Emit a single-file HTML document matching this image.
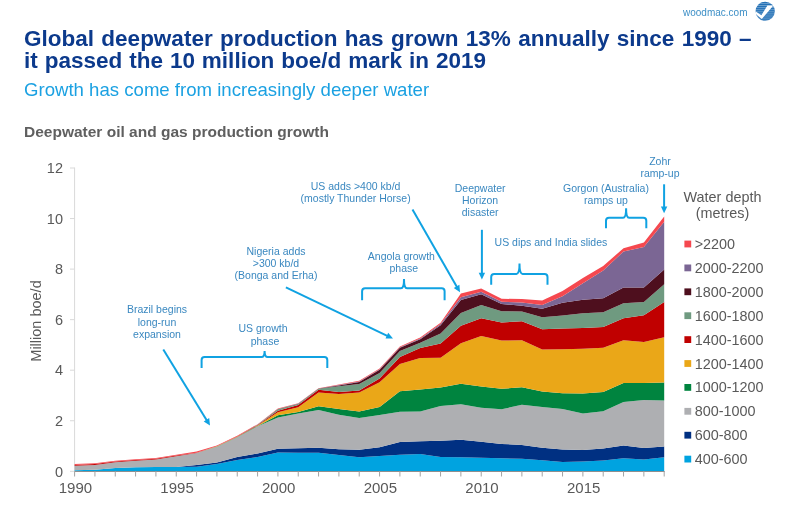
<!DOCTYPE html>
<html><head><meta charset="utf-8">
<style>
html,body{margin:0;padding:0;background:#fff;}
body{width:800px;height:528px;overflow:hidden;position:relative;font-family:"Liberation Sans",sans-serif;}
svg{position:absolute;left:0;top:0;will-change:transform;}
.ax{font-size:14.5px;fill:#595959;}
.an{font-size:10.5px;fill:#3a88c0;}
.lg{font-size:14.4px;fill:#595959;}
</style></head><body>
<svg width="800" height="528" viewBox="0 0 800 528">
<text x="683" y="15.6" style="font-size:10px;fill:#3d8fc6">woodmac.com</text>
<defs><clipPath id="lc"><circle cx="765.2" cy="11.25" r="9.6"/></clipPath></defs>
<g clip-path="url(#lc)">
<rect x="755" y="1" width="21" height="21" fill="#2471b6"/>
<g stroke="#ffffff" stroke-width="0.6" opacity="0.55">
<line x1="754" y1="3.4" x2="777" y2="3.4"/><line x1="754" y1="5.5" x2="777" y2="5.5"/><line x1="754" y1="7.6" x2="777" y2="7.6"/><line x1="754" y1="9.7" x2="777" y2="9.7"/><line x1="754" y1="11.8" x2="777" y2="11.8"/><line x1="754" y1="13.9" x2="777" y2="13.9"/><line x1="754" y1="16" x2="777" y2="16"/><line x1="754" y1="18.1" x2="777" y2="18.1"/><line x1="754" y1="20.2" x2="777" y2="20.2"/>
</g>
<path d="M755.0 11.1 L761.4 15.2 L767.4 5.6 L773.4 5.6 L761.8 18.9 L755.0 13.4 Z" fill="#ffffff"/>
</g>
<text x="24" y="45.5" style="font-size:22.5px;font-weight:bold;fill:#0c3a8c;word-spacing:1.1px">Global deepwater production has grown 13% annually since 1990 –</text>
<text x="24" y="68" style="font-size:22.5px;font-weight:bold;fill:#0c3a8c;word-spacing:0.7px">it passed the 10 million boe/d mark in 2019</text>
<text x="24" y="95.5" style="font-size:18.6px;fill:#1ba1e2">Growth has come from increasingly deeper water</text>
<text x="24" y="137" style="font-size:15.5px;font-weight:bold;fill:#5f5f5f">Deepwater oil and gas production growth</text>
<line x1="74.6" y1="167.5" x2="74.6" y2="471.3" stroke="#d9d9d9" stroke-width="1"/>
<line x1="70" y1="471.30" x2="74.6" y2="471.30" stroke="#d9d9d9" stroke-width="1"/>
<line x1="70" y1="420.75" x2="74.6" y2="420.75" stroke="#d9d9d9" stroke-width="1"/>
<line x1="70" y1="370.20" x2="74.6" y2="370.20" stroke="#d9d9d9" stroke-width="1"/>
<line x1="70" y1="319.65" x2="74.6" y2="319.65" stroke="#d9d9d9" stroke-width="1"/>
<line x1="70" y1="269.10" x2="74.6" y2="269.10" stroke="#d9d9d9" stroke-width="1"/>
<line x1="70" y1="218.55" x2="74.6" y2="218.55" stroke="#d9d9d9" stroke-width="1"/>
<line x1="70" y1="168.00" x2="74.6" y2="168.00" stroke="#d9d9d9" stroke-width="1"/>
<path d="M74.6 470.30 L94.9 469.70 L115.3 468.10 L135.6 467.20 L155.9 467.10 L176.3 467.00 L196.6 466.70 L216.9 463.90 L237.2 460.00 L257.6 457.00 L277.9 452.50 L298.2 452.70 L318.6 452.70 L338.9 455.10 L359.2 457.30 L379.6 456.00 L399.9 454.80 L420.2 454.00 L440.6 457.00 L460.9 457.30 L481.2 457.70 L501.6 458.20 L521.9 458.80 L542.2 460.30 L562.5 462.00 L582.9 461.50 L603.2 460.40 L623.5 458.30 L643.9 459.50 L664.2 457.30 L664.2 471.30 L643.9 471.30 L623.5 471.30 L603.2 471.30 L582.9 471.30 L562.5 471.30 L542.2 471.30 L521.9 471.30 L501.6 471.30 L481.2 471.30 L460.9 471.30 L440.6 471.30 L420.2 471.30 L399.9 471.30 L379.6 471.30 L359.2 471.30 L338.9 471.30 L318.6 471.30 L298.2 471.30 L277.9 471.30 L257.6 471.30 L237.2 471.30 L216.9 471.30 L196.6 471.30 L176.3 471.30 L155.9 471.30 L135.6 471.30 L115.3 471.30 L94.9 471.30 L74.6 471.30Z" fill="#00a3e0"/>
<path d="M74.6 470.30 L94.9 469.70 L115.3 468.10 L135.6 467.20 L155.9 467.10 L176.3 467.00 L196.6 465.00 L216.9 462.50 L237.2 456.90 L257.6 453.50 L277.9 448.80 L298.2 448.20 L318.6 447.80 L338.9 449.20 L359.2 449.80 L379.6 447.30 L399.9 442.00 L420.2 441.20 L440.6 440.70 L460.9 439.80 L481.2 441.70 L501.6 443.90 L521.9 445.00 L542.2 447.80 L562.5 449.60 L582.9 450.10 L603.2 448.50 L623.5 445.60 L643.9 447.90 L664.2 446.60 L664.2 457.30 L643.9 459.50 L623.5 458.30 L603.2 460.40 L582.9 461.50 L562.5 462.00 L542.2 460.30 L521.9 458.80 L501.6 458.20 L481.2 457.70 L460.9 457.30 L440.6 457.00 L420.2 454.00 L399.9 454.80 L379.6 456.00 L359.2 457.30 L338.9 455.10 L318.6 452.70 L298.2 452.70 L277.9 452.50 L257.6 457.00 L237.2 460.00 L216.9 463.90 L196.6 466.70 L176.3 467.00 L155.9 467.10 L135.6 467.20 L115.3 468.10 L94.9 469.70 L74.6 470.30Z" fill="#003082"/>
<path d="M74.6 465.75 L94.9 464.90 L115.3 462.25 L135.6 460.70 L155.9 459.50 L176.3 456.30 L196.6 453.10 L216.9 447.00 L237.2 437.20 L257.6 426.30 L277.9 417.60 L298.2 413.60 L318.6 410.00 L338.9 414.80 L359.2 418.10 L379.6 415.00 L399.9 411.80 L420.2 411.50 L440.6 406.00 L460.9 404.20 L481.2 407.80 L501.6 409.20 L521.9 404.80 L542.2 407.00 L562.5 409.00 L582.9 413.50 L603.2 411.30 L623.5 402.00 L643.9 400.00 L664.2 400.50 L664.2 446.60 L643.9 447.90 L623.5 445.60 L603.2 448.50 L582.9 450.10 L562.5 449.60 L542.2 447.80 L521.9 445.00 L501.6 443.90 L481.2 441.70 L460.9 439.80 L440.6 440.70 L420.2 441.20 L399.9 442.00 L379.6 447.30 L359.2 449.80 L338.9 449.20 L318.6 447.80 L298.2 448.20 L277.9 448.80 L257.6 453.50 L237.2 456.90 L216.9 462.50 L196.6 465.00 L176.3 467.00 L155.9 467.10 L135.6 467.20 L115.3 468.10 L94.9 469.70 L74.6 470.30Z" fill="#aeafb2"/>
<path d="M74.6 465.75 L94.9 464.90 L115.3 462.25 L135.6 460.70 L155.9 459.50 L176.3 456.30 L196.6 453.00 L216.9 446.80 L237.2 437.00 L257.6 425.90 L277.9 415.30 L298.2 412.00 L318.6 406.30 L338.9 409.10 L359.2 411.50 L379.6 407.10 L399.9 391.30 L420.2 389.50 L440.6 387.50 L460.9 383.80 L481.2 386.60 L501.6 388.80 L521.9 387.20 L542.2 391.50 L562.5 393.20 L582.9 393.50 L603.2 391.90 L623.5 382.90 L643.9 383.00 L664.2 382.50 L664.2 400.50 L643.9 400.00 L623.5 402.00 L603.2 411.30 L582.9 413.50 L562.5 409.00 L542.2 407.00 L521.9 404.80 L501.6 409.20 L481.2 407.80 L460.9 404.20 L440.6 406.00 L420.2 411.50 L399.9 411.80 L379.6 415.00 L359.2 418.10 L338.9 414.80 L318.6 410.00 L298.2 413.60 L277.9 417.60 L257.6 426.30 L237.2 437.20 L216.9 447.00 L196.6 453.10 L176.3 456.30 L155.9 459.50 L135.6 460.70 L115.3 462.25 L94.9 464.90 L74.6 465.75Z" fill="#00843f"/>
<path d="M74.6 465.75 L94.9 464.90 L115.3 462.25 L135.6 460.70 L155.9 459.50 L176.3 456.30 L196.6 452.90 L216.9 446.60 L237.2 436.80 L257.6 425.50 L277.9 412.20 L298.2 407.20 L318.6 392.50 L338.9 393.90 L359.2 392.50 L379.6 382.30 L399.9 364.00 L420.2 358.00 L440.6 357.70 L460.9 343.30 L481.2 336.00 L501.6 340.50 L521.9 340.20 L542.2 349.50 L562.5 349.20 L582.9 348.70 L603.2 347.70 L623.5 340.30 L643.9 342.00 L664.2 337.30 L664.2 382.50 L643.9 383.00 L623.5 382.90 L603.2 391.90 L582.9 393.50 L562.5 393.20 L542.2 391.50 L521.9 387.20 L501.6 388.80 L481.2 386.60 L460.9 383.80 L440.6 387.50 L420.2 389.50 L399.9 391.30 L379.6 407.10 L359.2 411.50 L338.9 409.10 L318.6 406.30 L298.2 412.00 L277.9 415.30 L257.6 425.90 L237.2 437.00 L216.9 446.80 L196.6 453.00 L176.3 456.30 L155.9 459.50 L135.6 460.70 L115.3 462.25 L94.9 464.90 L74.6 465.75Z" fill="#eaa718"/>
<path d="M74.6 464.90 L94.9 464.10 L115.3 461.50 L135.6 459.90 L155.9 458.70 L176.3 455.50 L196.6 452.80 L216.9 446.40 L237.2 436.60 L257.6 425.10 L277.9 410.80 L298.2 405.00 L318.6 389.70 L338.9 392.00 L359.2 390.60 L379.6 378.50 L399.9 357.00 L420.2 348.00 L440.6 343.60 L460.9 325.80 L481.2 318.30 L501.6 322.40 L521.9 321.30 L542.2 329.20 L562.5 328.40 L582.9 328.10 L603.2 327.10 L623.5 318.20 L643.9 315.30 L664.2 302.00 L664.2 337.30 L643.9 342.00 L623.5 340.30 L603.2 347.70 L582.9 348.70 L562.5 349.20 L542.2 349.50 L521.9 340.20 L501.6 340.50 L481.2 336.00 L460.9 343.30 L440.6 357.70 L420.2 358.00 L399.9 364.00 L379.6 382.30 L359.2 392.50 L338.9 393.90 L318.6 392.50 L298.2 407.20 L277.9 412.20 L257.6 425.50 L237.2 436.80 L216.9 446.60 L196.6 452.90 L176.3 456.30 L155.9 459.50 L135.6 460.70 L115.3 462.25 L94.9 464.90 L74.6 465.75Z" fill="#c00000"/>
<path d="M74.6 464.90 L94.9 464.10 L115.3 461.50 L135.6 459.90 L155.9 458.70 L176.3 455.50 L196.6 452.70 L216.9 446.20 L237.2 436.40 L257.6 424.80 L277.9 409.30 L298.2 403.90 L318.6 388.80 L338.9 386.20 L359.2 384.00 L379.6 373.00 L399.9 351.00 L420.2 342.80 L440.6 333.50 L460.9 313.00 L481.2 305.00 L501.6 311.20 L521.9 311.60 L542.2 317.30 L562.5 315.60 L582.9 313.30 L603.2 312.30 L623.5 303.30 L643.9 302.00 L664.2 284.20 L664.2 302.00 L643.9 315.30 L623.5 318.20 L603.2 327.10 L582.9 328.10 L562.5 328.40 L542.2 329.20 L521.9 321.30 L501.6 322.40 L481.2 318.30 L460.9 325.80 L440.6 343.60 L420.2 348.00 L399.9 357.00 L379.6 378.50 L359.2 390.60 L338.9 392.00 L318.6 389.70 L298.2 405.00 L277.9 410.80 L257.6 425.10 L237.2 436.60 L216.9 446.40 L196.6 452.80 L176.3 455.50 L155.9 458.70 L135.6 459.90 L115.3 461.50 L94.9 464.10 L74.6 464.90Z" fill="#6f9a80"/>
<path d="M74.6 464.90 L94.9 464.10 L115.3 461.50 L135.6 459.90 L155.9 458.70 L176.3 455.50 L196.6 452.70 L216.9 446.20 L237.2 436.40 L257.6 424.70 L277.9 409.00 L298.2 403.70 L318.6 388.60 L338.9 385.50 L359.2 382.10 L379.6 369.80 L399.9 347.80 L420.2 339.30 L440.6 325.20 L460.9 299.90 L481.2 294.30 L501.6 304.00 L521.9 305.70 L542.2 308.70 L562.5 302.70 L582.9 299.80 L603.2 298.20 L623.5 287.40 L643.9 287.50 L664.2 269.50 L664.2 284.20 L643.9 302.00 L623.5 303.30 L603.2 312.30 L582.9 313.30 L562.5 315.60 L542.2 317.30 L521.9 311.60 L501.6 311.20 L481.2 305.00 L460.9 313.00 L440.6 333.50 L420.2 342.80 L399.9 351.00 L379.6 373.00 L359.2 384.00 L338.9 386.20 L318.6 388.80 L298.2 403.90 L277.9 409.30 L257.6 424.80 L237.2 436.40 L216.9 446.20 L196.6 452.70 L176.3 455.50 L155.9 458.70 L135.6 459.90 L115.3 461.50 L94.9 464.10 L74.6 464.90Z" fill="#4e0f1e"/>
<path d="M74.6 464.90 L94.9 464.10 L115.3 461.50 L135.6 459.90 L155.9 458.70 L176.3 455.50 L196.6 452.70 L216.9 446.20 L237.2 436.40 L257.6 424.60 L277.9 408.90 L298.2 403.60 L318.6 388.50 L338.9 385.00 L359.2 381.50 L379.6 369.30 L399.9 347.20 L420.2 338.50 L440.6 324.00 L460.9 297.20 L481.2 291.80 L501.6 301.80 L521.9 302.50 L542.2 305.00 L562.5 296.20 L582.9 283.30 L603.2 270.50 L623.5 251.50 L643.9 247.00 L664.2 221.80 L664.2 269.50 L643.9 287.50 L623.5 287.40 L603.2 298.20 L582.9 299.80 L562.5 302.70 L542.2 308.70 L521.9 305.70 L501.6 304.00 L481.2 294.30 L460.9 299.90 L440.6 325.20 L420.2 339.30 L399.9 347.80 L379.6 369.80 L359.2 382.10 L338.9 385.50 L318.6 388.60 L298.2 403.70 L277.9 409.00 L257.6 424.70 L237.2 436.40 L216.9 446.20 L196.6 452.70 L176.3 455.50 L155.9 458.70 L135.6 459.90 L115.3 461.50 L94.9 464.10 L74.6 464.90Z" fill="#7b6694"/>
<path d="M74.6 464.00 L94.9 463.30 L115.3 460.80 L135.6 459.20 L155.9 457.90 L176.3 454.80 L196.6 451.60 L216.9 445.40 L237.2 435.80 L257.6 424.20 L277.9 408.50 L298.2 403.20 L318.6 388.20 L338.9 384.50 L359.2 380.80 L379.6 368.50 L399.9 346.50 L420.2 337.50 L440.6 322.70 L460.9 293.50 L481.2 288.50 L501.6 298.80 L521.9 299.00 L542.2 300.50 L562.5 291.00 L582.9 278.00 L603.2 266.00 L623.5 248.20 L643.9 242.60 L664.2 216.50 L664.2 221.80 L643.9 247.00 L623.5 251.50 L603.2 270.50 L582.9 283.30 L562.5 296.20 L542.2 305.00 L521.9 302.50 L501.6 301.80 L481.2 291.80 L460.9 297.20 L440.6 324.00 L420.2 338.50 L399.9 347.20 L379.6 369.30 L359.2 381.50 L338.9 385.00 L318.6 388.50 L298.2 403.60 L277.9 408.90 L257.6 424.60 L237.2 436.40 L216.9 446.20 L196.6 452.70 L176.3 455.50 L155.9 458.70 L135.6 459.90 L115.3 461.50 L94.9 464.10 L74.6 464.90Z" fill="#f5484f"/>
<line x1="74.6" y1="471.5" x2="664.7" y2="471.5" stroke="#8f8f8f" stroke-width="1"/>
<line x1="74.60" y1="471.3" x2="74.60" y2="476.5" stroke="#a3a3a3" stroke-width="1"/>
<line x1="94.93" y1="471.3" x2="94.93" y2="476.5" stroke="#a3a3a3" stroke-width="1"/>
<line x1="115.26" y1="471.3" x2="115.26" y2="476.5" stroke="#a3a3a3" stroke-width="1"/>
<line x1="135.59" y1="471.3" x2="135.59" y2="476.5" stroke="#a3a3a3" stroke-width="1"/>
<line x1="155.92" y1="471.3" x2="155.92" y2="476.5" stroke="#a3a3a3" stroke-width="1"/>
<line x1="176.26" y1="471.3" x2="176.26" y2="476.5" stroke="#a3a3a3" stroke-width="1"/>
<line x1="196.59" y1="471.3" x2="196.59" y2="476.5" stroke="#a3a3a3" stroke-width="1"/>
<line x1="216.92" y1="471.3" x2="216.92" y2="476.5" stroke="#a3a3a3" stroke-width="1"/>
<line x1="237.25" y1="471.3" x2="237.25" y2="476.5" stroke="#a3a3a3" stroke-width="1"/>
<line x1="257.58" y1="471.3" x2="257.58" y2="476.5" stroke="#a3a3a3" stroke-width="1"/>
<line x1="277.91" y1="471.3" x2="277.91" y2="476.5" stroke="#a3a3a3" stroke-width="1"/>
<line x1="298.24" y1="471.3" x2="298.24" y2="476.5" stroke="#a3a3a3" stroke-width="1"/>
<line x1="318.57" y1="471.3" x2="318.57" y2="476.5" stroke="#a3a3a3" stroke-width="1"/>
<line x1="338.90" y1="471.3" x2="338.90" y2="476.5" stroke="#a3a3a3" stroke-width="1"/>
<line x1="359.23" y1="471.3" x2="359.23" y2="476.5" stroke="#a3a3a3" stroke-width="1"/>
<line x1="379.57" y1="471.3" x2="379.57" y2="476.5" stroke="#a3a3a3" stroke-width="1"/>
<line x1="399.90" y1="471.3" x2="399.90" y2="476.5" stroke="#a3a3a3" stroke-width="1"/>
<line x1="420.23" y1="471.3" x2="420.23" y2="476.5" stroke="#a3a3a3" stroke-width="1"/>
<line x1="440.56" y1="471.3" x2="440.56" y2="476.5" stroke="#a3a3a3" stroke-width="1"/>
<line x1="460.89" y1="471.3" x2="460.89" y2="476.5" stroke="#a3a3a3" stroke-width="1"/>
<line x1="481.22" y1="471.3" x2="481.22" y2="476.5" stroke="#a3a3a3" stroke-width="1"/>
<line x1="501.55" y1="471.3" x2="501.55" y2="476.5" stroke="#a3a3a3" stroke-width="1"/>
<line x1="521.88" y1="471.3" x2="521.88" y2="476.5" stroke="#a3a3a3" stroke-width="1"/>
<line x1="542.21" y1="471.3" x2="542.21" y2="476.5" stroke="#a3a3a3" stroke-width="1"/>
<line x1="562.54" y1="471.3" x2="562.54" y2="476.5" stroke="#a3a3a3" stroke-width="1"/>
<line x1="582.88" y1="471.3" x2="582.88" y2="476.5" stroke="#a3a3a3" stroke-width="1"/>
<line x1="603.21" y1="471.3" x2="603.21" y2="476.5" stroke="#a3a3a3" stroke-width="1"/>
<line x1="623.54" y1="471.3" x2="623.54" y2="476.5" stroke="#a3a3a3" stroke-width="1"/>
<line x1="643.87" y1="471.3" x2="643.87" y2="476.5" stroke="#a3a3a3" stroke-width="1"/>
<line x1="664.20" y1="471.3" x2="664.20" y2="476.5" stroke="#a3a3a3" stroke-width="1"/>
<text x="63" y="476.50" text-anchor="end" class="ax">0</text>
<text x="63" y="425.95" text-anchor="end" class="ax">2</text>
<text x="63" y="375.40" text-anchor="end" class="ax">4</text>
<text x="63" y="324.85" text-anchor="end" class="ax">6</text>
<text x="63" y="274.30" text-anchor="end" class="ax">8</text>
<text x="63" y="223.75" text-anchor="end" class="ax">10</text>
<text x="63" y="173.20" text-anchor="end" class="ax">12</text>
<text x="75.40" y="493.3" text-anchor="middle" class="ax" style="font-size:15px">1990</text>
<text x="177.06" y="493.3" text-anchor="middle" class="ax" style="font-size:15px">1995</text>
<text x="278.71" y="493.3" text-anchor="middle" class="ax" style="font-size:15px">2000</text>
<text x="380.37" y="493.3" text-anchor="middle" class="ax" style="font-size:15px">2005</text>
<text x="482.02" y="493.3" text-anchor="middle" class="ax" style="font-size:15px">2010</text>
<text x="583.68" y="493.3" text-anchor="middle" class="ax" style="font-size:15px">2015</text>
<text transform="translate(40.5 321) rotate(-90)" text-anchor="middle" class="ax">Million boe/d</text>
<text x="157.0" y="313.0" text-anchor="middle" class="an">Brazil begins</text>
<text x="157.0" y="325.5" text-anchor="middle" class="an">long-run</text>
<text x="157.0" y="338.0" text-anchor="middle" class="an">expansion</text>
<line x1="163.3" y1="349.5" x2="207.0" y2="420.7" stroke="#10a2e2" stroke-width="2"/><path d="M210.0 425.6 L203.7 421.5 L209.2 418.1 Z" fill="#10a2e2"/>
<text x="263.0" y="332.1" text-anchor="middle" class="an">US growth</text>
<text x="265.0" y="344.6" text-anchor="middle" class="an">phase</text>
<path d="M201.6 368.0 L201.6 360.1 Q201.6 357.1 204.6 357.1 L261.6 357.1 Q264.6 357.1 264.6 351.0 Q264.6 357.1 267.6 357.1 L324.3 357.1 Q327.3 357.1 327.3 360.1 L327.3 368.0" fill="none" stroke="#10a2e2" stroke-width="2"/>
<text x="276.0" y="254.5" text-anchor="middle" class="an">Nigeria adds</text>
<text x="276.0" y="266.8" text-anchor="middle" class="an">&gt;300 kb/d</text>
<text x="276.0" y="279.1" text-anchor="middle" class="an">(Bonga and Erha)</text>
<line x1="285.9" y1="287.3" x2="387.8" y2="336.1" stroke="#10a2e2" stroke-width="2"/><path d="M393.0 338.6 L385.5 338.5 L388.2 332.8 Z" fill="#10a2e2"/>
<text x="355.6" y="189.9" text-anchor="middle" class="an">US adds &gt;400 kb/d</text>
<text x="355.6" y="202.0" text-anchor="middle" class="an">(mostly Thunder Horse)</text>
<line x1="412.5" y1="209.6" x2="457.1" y2="287.2" stroke="#10a2e2" stroke-width="2"/><path d="M460.0 292.2 L453.8 287.9 L459.4 284.7 Z" fill="#10a2e2"/>
<text x="401.4" y="260.1" text-anchor="middle" class="an">Angola growth</text>
<text x="403.8" y="272.4" text-anchor="middle" class="an">phase</text>
<path d="M362.1 300.2 L362.1 291.3 Q362.1 288.3 365.1 288.3 L401.0 288.3 Q404.0 288.3 404.0 278.9 Q404.0 288.3 407.0 288.3 L441.6 288.3 Q444.6 288.3 444.6 291.3 L444.6 300.2" fill="none" stroke="#10a2e2" stroke-width="2"/>
<text x="480.1" y="192.3" text-anchor="middle" class="an">Deepwater</text>
<text x="480.1" y="204.4" text-anchor="middle" class="an">Horizon</text>
<text x="480.1" y="216.3" text-anchor="middle" class="an">disaster</text>
<line x1="481.9" y1="229.8" x2="481.9" y2="273.8" stroke="#10a2e2" stroke-width="2"/><path d="M481.9 279.6 L478.7 272.8 L485.1 272.8 Z" fill="#10a2e2"/>
<text x="494.6" y="245.5" class="an">US dips and India slides</text>
<path d="M491.2 284.8 L491.2 276.9 Q491.2 273.9 494.2 273.9 L516.5 273.9 Q519.5 273.9 519.5 263.6 Q519.5 273.9 522.5 273.9 L544.5 273.9 Q547.5 273.9 547.5 276.9 L547.5 284.8" fill="none" stroke="#10a2e2" stroke-width="2"/>
<text x="606.0" y="191.9" text-anchor="middle" class="an">Gorgon (Australia)</text>
<text x="606.0" y="203.6" text-anchor="middle" class="an">ramps up</text>
<path d="M606.0 228.2 L606.0 220.8 Q606.0 217.8 609.0 217.8 L623.1 217.8 Q626.1 217.8 626.1 208.2 Q626.1 217.8 629.1 217.8 L643.3 217.8 Q646.3 217.8 646.3 220.8 L646.3 228.2" fill="none" stroke="#10a2e2" stroke-width="2"/>
<text x="660.0" y="165.0" text-anchor="middle" class="an">Zohr</text>
<text x="660.0" y="177.0" text-anchor="middle" class="an">ramp-up</text>
<line x1="664.1" y1="184.3" x2="664.1" y2="207.4" stroke="#10a2e2" stroke-width="2"/><path d="M664.1 213.2 L660.9 206.4 L667.3 206.4 Z" fill="#10a2e2"/>
<text x="722.5" y="201.5" text-anchor="middle" class="lg">Water depth</text>
<text x="722.5" y="218" text-anchor="middle" class="lg">(metres)</text>
<rect x="684.4" y="240.60" width="6.8" height="6.8" fill="#f5484f"/>
<text x="694.7" y="249.00" class="lg">>2200</text>
<rect x="684.4" y="264.50" width="6.8" height="6.8" fill="#7b6694"/>
<text x="694.7" y="272.90" class="lg">2000-2200</text>
<rect x="684.4" y="288.40" width="6.8" height="6.8" fill="#4e0f1e"/>
<text x="694.7" y="296.80" class="lg">1800-2000</text>
<rect x="684.4" y="312.30" width="6.8" height="6.8" fill="#6f9a80"/>
<text x="694.7" y="320.70" class="lg">1600-1800</text>
<rect x="684.4" y="336.20" width="6.8" height="6.8" fill="#c00000"/>
<text x="694.7" y="344.60" class="lg">1400-1600</text>
<rect x="684.4" y="360.10" width="6.8" height="6.8" fill="#eaa718"/>
<text x="694.7" y="368.50" class="lg">1200-1400</text>
<rect x="684.4" y="384.00" width="6.8" height="6.8" fill="#00843f"/>
<text x="694.7" y="392.40" class="lg">1000-1200</text>
<rect x="684.4" y="407.90" width="6.8" height="6.8" fill="#aeafb2"/>
<text x="694.7" y="416.30" class="lg">800-1000</text>
<rect x="684.4" y="431.80" width="6.8" height="6.8" fill="#003082"/>
<text x="694.7" y="440.20" class="lg">600-800</text>
<rect x="684.4" y="455.70" width="6.8" height="6.8" fill="#00a3e0"/>
<text x="694.7" y="464.10" class="lg">400-600</text>
</svg>
</body></html>
